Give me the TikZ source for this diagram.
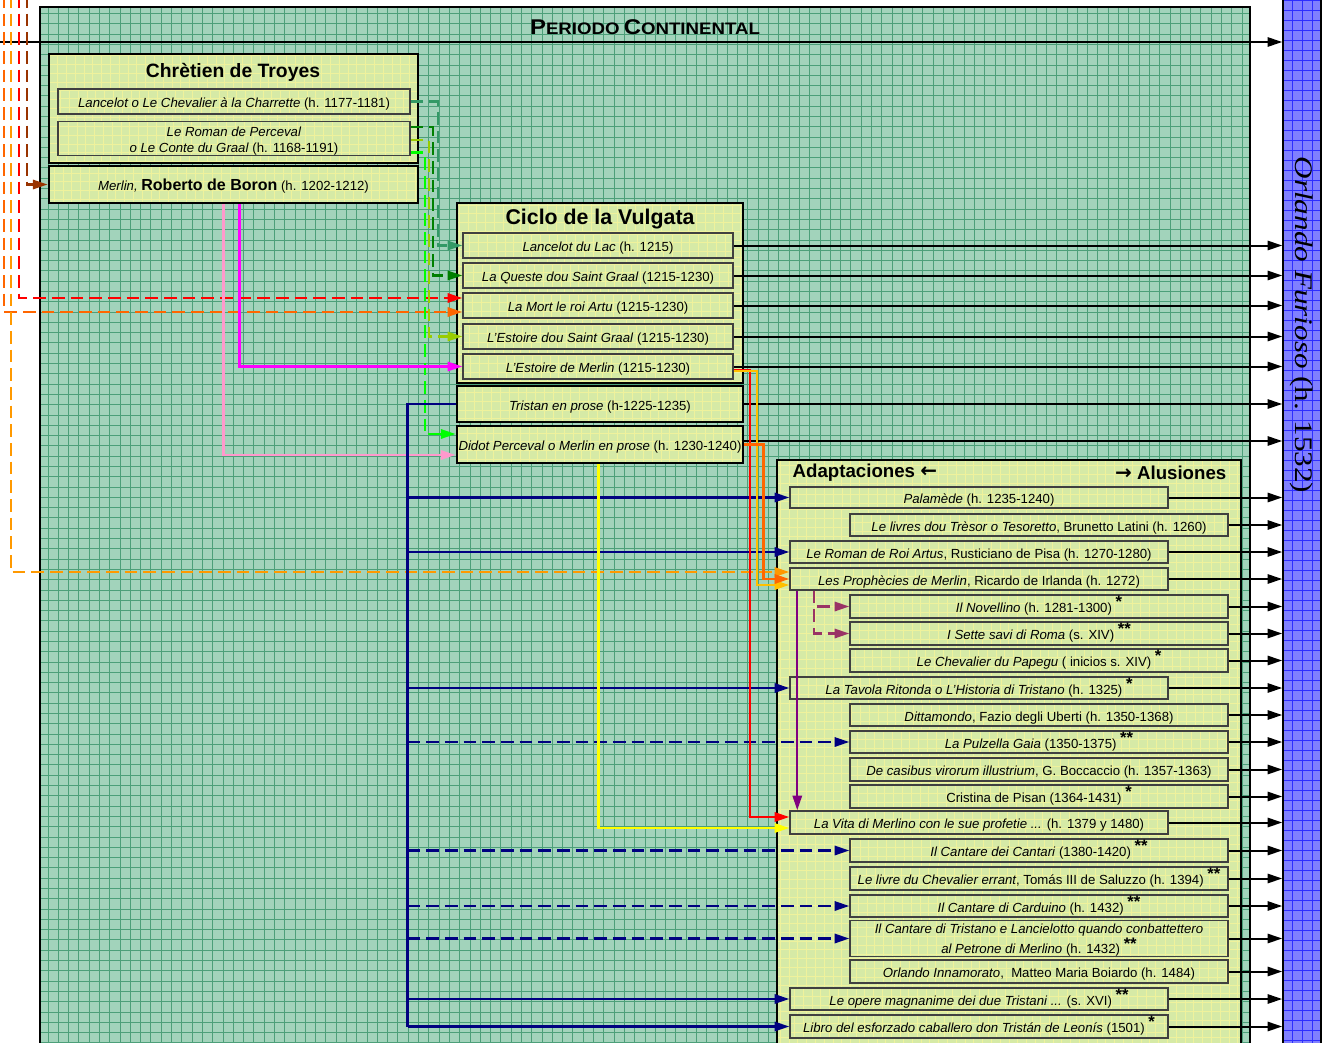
\documentclass[tikz,border=0pt]{standalone}
\usepackage{fontspec}
\setmainfont{Liberation Sans}
\newfontfamily\serifo{Liberation Serif}
\newfontfamily\dejavu{DejaVu Sans}
\usetikzlibrary{arrows.meta,fit,calc}
\definecolor{panelfill}{HTML}{A2D3BB}
\definecolor{panelgrid}{HTML}{4C9F79}
\definecolor{boxfill}{HTML}{D6EAA6}
\definecolor{boxgrid}{HTML}{EFF29C}
\definecolor{barfill}{HTML}{8080FF}
\definecolor{bargrid}{HTML}{2E2EFF}
\definecolor{cbrown}{HTML}{993300}
\definecolor{cred}{HTML}{FF0000}
\definecolor{corred}{HTML}{FF6600}
\definecolor{clor}{HTML}{FF9900}
\definecolor{cgold}{HTML}{FFC000}
\definecolor{cteal}{HTML}{339966}
\definecolor{cdgreen}{HTML}{008000}
\definecolor{cygreen}{HTML}{99CC00}
\definecolor{cbgreen}{HTML}{00FF00}
\definecolor{cmag}{HTML}{FF00FF}
\definecolor{cpink}{HTML}{FF99CC}
\definecolor{cnavy}{HTML}{000080}
\definecolor{cyel}{HTML}{FFFF00}
\definecolor{cpurple}{HTML}{800080}
\definecolor{cplum}{HTML}{993366}
\newcommand\stA{\raisebox{3.5pt}{\fontsize{12.5}{12.5}\selectfont\bfseries *}}
\newcommand\stB{\raisebox{3.5pt}{\fontsize{12.5}{12.5}\selectfont\bfseries **}}
\begin{document}
\begin{tikzpicture}[x=0.75pt,y=-0.75pt,
  panel/.style={draw=black,line width=1.5pt,fill=panelfill,inner sep=0pt,
    path picture={\draw[panelgrid,line width=0.7pt] (path picture bounding box.south west) grid[step=7.72pt] (path picture bounding box.north east);}},
  bar/.style={draw=black,line width=1.2pt,fill=barfill,inner sep=0pt,
    path picture={\draw[bargrid,line width=0.5pt] (path picture bounding box.south west) grid[step=7.5pt] (path picture bounding box.north east);}},
  gridded/.style={fill=boxfill,inner sep=0pt,
    path picture={\draw[boxgrid,line width=0.5pt] (path picture bounding box.south west) grid[step=6.6pt] (path picture bounding box.north east);}},
  obox/.style={gridded,draw=black,line width=2.2pt},
  ibox/.style={gridded,draw=black!75,line width=1.1pt,align=center,
    font=\fontsize{9.9}{12.5}\selectfont,text height=9.5pt,text depth=0.5pt},
  twoline/.style={text height={},text depth={}},
  bx/.style args={#1/#2/#3/#4}{at={({(#1+#3)/2},{(#2+#4)/2})},
    minimum width={(#3-#1)*0.75pt},minimum height={(#4-#2)*0.75pt}},
  arr/.style={-{Triangle[length=11pt,width=7pt]}},
  bk/.style={draw=black,line width=1.5pt,arr},
  con/.style={line width=1.6pt,arr},
  dsh/.style={dash pattern=on 9.5pt off 4.5pt},
]
\useasboundingbox (0,0) rectangle (1334,1042);
\begin{scope}
\clip (0,0) rectangle (1334,1042);
% panel and bar
\node[panel,bx=40/7/1250/1070] (pan) {};
\node[font=\bfseries] (ptitle) at (645,27)
  {\scalebox{1.12}[1]{{\fontsize{16}{18}\selectfont P}{\fontsize{12.5}{15}\selectfont ERIODO} {\fontsize{16}{18}\selectfont C}{\fontsize{12.5}{15}\selectfont ONTINENTAL}}};
\node[bar,bx=1283/-10/1321/1070] (orl) {};
\node[rotate=-90,font=\serifo\fontsize{19}{22}\selectfont] (orltx) at (1302,325)
  {\scalebox{1.23}[1]{\textit{Orlando Furioso} (h. 1532)}};

% Chretien
\node[obox,bx=49/54/418/163] (ct) {};
\node[font=\fontsize{14.5}{17}\selectfont\bfseries] (cttitle) at (233,72) {Chrètien de Troyes};
\node[ibox,bx=58/89/410/114] (lan) {\textit{Lancelot o Le Chevalier à la Charrette} (h. 1177-1181)};
\node[ibox,twoline,bx=58/122/410/155] (per) {\rule{0pt}{11pt}\textit{Le Roman de Perceval}\\\textit{o Le Conte du Graal} (h. 1168-1191)};
\node[ibox,draw=black,line width=2.2pt,bx=49/166/418/203] (mer) {\textit{Merlin,} {\fontsize{12}{14}\selectfont\bfseries Roberto de Boron} (h. 1202-1212)};

% Vulgata
\node[obox,bx=457/203/743/383] (vul) {};
\node[font=\fontsize{16}{19}\selectfont\bfseries] (vultitle) at (600,219) {Ciclo de la Vulgata};
\node[ibox,bx=463/233/733/258] (v1) {\textit{Lancelot du Lac} (h. 1215)};
\node[ibox,bx=463/263/733/288] (v2) {\textit{La Queste dou Saint Graal} (1215-1230)};
\node[ibox,bx=463/293/733/318] (v3) {\textit{La Mort le roi Artu} (1215-1230)};
\node[ibox,bx=463/324/733/349] (v4) {\textit{L'Estoire dou Saint Graal} (1215-1230)};
\node[ibox,bx=463/354/733/379] (v5) {\textit{L'Estoire de Merlin} (1215-1230)};
\node[ibox,draw=black,line width=2.2pt,bx=457/386/743/422] (tri) {\textit{Tristan en prose} (h-1225-1235)};
\node[ibox,draw=black,line width=2.2pt,bx=457/426/743/463] (did) {\textit{Didot Perceval o Merlin en prose} (h. 1230-1240)};

% Adaptaciones
\node[obox,bx=777/460/1241/1070] (ada) {};
\node[anchor=west,font=\fontsize{14}{17}\selectfont\bfseries] (adatitle) at (788,473) {Adaptaciones {\dejavu\bfseries\fontsize{15}{17}\selectfont ←}};
\node[anchor=east,font=\fontsize{14}{17}\selectfont\bfseries] (alutitle) at (1231,473) {{\dejavu\bfseries\fontsize{15}{17}\selectfont →} Alusiones};
\node[ibox,bx=790/487/1168/508] (pal) {\textit{Palamède} (h. 1235-1240)};
\node[ibox,bx=850/514/1228/536] (tre) {\textit{Le livres dou Trèsor o Tesoretto}, Brunetto Latini (h. 1260)};
\node[ibox,bx=790/541/1168/563] (rom) {\textit{Le Roman de Roi Artus}, Rusticiano de Pisa (h. 1270-1280)};
\node[ibox,bx=790/568/1168/590] (pro) {\textit{Les Prophècies de Merlin}, Ricardo de Irlanda (h. 1272)};
\node[ibox,bx=850/595/1228/618] (nov) {\textit{Il Novellino} (h. 1281-1300) \stA};
\node[ibox,bx=850/622/1228/645] (set) {\textit{I Sette savi di Roma} (s. XIV) \stB};
\node[ibox,bx=850/649/1228/672] (pap) {\textit{Le Chevalier du Papegu} ( inicios s. XIV) \stA};
\node[ibox,bx=790/677/1168/699] (tav) {\textit{La Tavola Ritonda o L'Historia di Tristano} (h. 1325) \stA};
\node[ibox,bx=850/704/1228/726] (dit) {\textit{Dittamondo}, Fazio degli Uberti (h. 1350-1368)};
\node[ibox,bx=850/731/1228/753] (pul) {\textit{La Pulzella Gaia} (1350-1375) \stB};
\node[ibox,bx=850/758/1228/781] (cas) {\textit{De casibus virorum illustrium}, G. Boccaccio (h. 1357-1363)};
\node[ibox,bx=850/785/1228/808] (cri) {Cristina de Pisan (1364-1431) \stA};
\node[ibox,bx=790/811/1168/834] (vit) {\textit{La Vita di Merlino con le sue profetie ...} (h. 1379 y 1480)};
\node[ibox,bx=850/839/1228/862] (can) {\textit{Il Cantare dei Cantari} (1380-1420) \stB};
\node[ibox,bx=850/867/1228/890] (err) {\textit{Le livre du Chevalier errant}, Tomás III de Saluzzo (h. 1394) \stB};
\node[ibox,bx=850/895/1228/917] (car) {\textit{Il Cantare di Carduino} (h. 1432) \stB};
\node[ibox,twoline,bx=850/922/1228/955] (ctr) {\rule{0pt}{10pt}\textit{Il Cantare di Tristano e Lancielotto quando conbattettero}\\\textit{al Petrone di Merlino} (h. 1432) \stB};
\node[ibox,bx=850/960/1228/983] (inn) {\textit{Orlando Innamorato},\ \ Matteo Maria Boiardo (h. 1484)};
\node[ibox,bx=790/988/1168/1010] (ope) {\textit{Le opere magnanime dei due Tristani ...} (s. XVI) \stB};
\node[ibox,bx=790/1015/1168/1038] (lib) {\textit{Libro del esforzado caballero don Tristán de Leonís} (1501) \stA};

% black arrows to Orlando
\coordinate (topstart) at (0,42);
\draw[bk] (topstart) -- (topstart -| orl.west);
\foreach \n in {v1,v2,v3,v4,v5,tri,pal,tre,rom,pro,nov,set,pap,tav,dit,pul,cas,cri,vit,can,err,car,ctr,inn,ope,lib}
  \draw[bk] (\n.east) -- (\n.east -| orl.west);
\coordinate (didout) at ($(did.east)+(0,-3.5)$);
\draw[bk] (didout) -- (didout -| orl.west);

% left dashed sources
\coordinate (sbr) at (27,-5);
\coordinate (sred) at (19,-5);
\coordinate (sor) at (4,-5);
\coordinate (slor) at (11,-5);
\draw[con,dsh,color=cbrown] (sbr) |- (mer.west);
\draw[con,dsh,color=cred] (sred) |- ($(v3.west)+(0,-7.5)$);
\draw[con,dsh,color=corred] (sor) |- ($(v3.west)+(0,6.5)$);
\draw[con,dsh,color=clor] (slor) |- ($(pro.west)+(0,-7)$);

% Chretien to Vulgata
\draw[con,dsh,color=cteal] (lan.east) -- ++(27,0) |- (v1.west);
\draw[con,dsh,color=cdgreen] ($(per.east)+(0,-11.5)$) -- ++(22,0) |- (v2.west);
\draw[con,dsh,color=cygreen] ($(per.east)+(0,1.5)$) -- ++(18,0) |- (v4.west);
\draw[con,dsh,color=cbgreen] ($(per.east)+(0,14)$) -- ++(14,0) |- ($(did.west)+(0,-10.5)$);

% Merlin to Vulgata
\draw[con,color=cmag] ($(mer.south west)+(192,0)$) |- (v5.west);
\draw[con,color=cpink] ($(mer.south west)+(176,0)$) |- ($(did.west)+(0,10.5)$);

% Tristan en prose (navy)
\coordinate (nv) at ($(tri.west)+(-48,0)$);
\draw[line width=1.6pt,color=cnavy] (tri.west) -- (nv) -- (nv |- lib.west);
\foreach \n in {pal,rom,tav,ope,lib}
  \draw[con,color=cnavy] (nv |- \n.west) -- (\n.west);
\foreach \n in {pul,can,car,ctr}
  \draw[con,dsh,color=cnavy] (nv |- \n.west) -- (\n.west);

% Vulgata / Didot to adaptaciones
\draw[con,color=cyel] ($(did.south west)+(143,0)$) |- ($(vit.west)+(0,5.5)$);
\draw[con,color=cred] ($(v5.east)+(0,3.5)$) -- ++(16,0) |- ($(vit.west)+(0,-5.5)$);
\draw[con,color=cgold] ($(v5.east)+(0,4.5)$) -- ++(23,0) |- ($(pro.west)+(0,6)$);
\draw[con,color=corred] (did.east) -- ++(19,0) |- (pro.west);

% Prophecies
\coordinate (pur) at ($(pro.south west)+(8,0)$);
\draw[con,color=cpurple] (pur) -- (pur |- vit.north);
\coordinate (plum) at ($(pro.south west)+(25,0)$);
\draw[con,dsh,color=cplum] (plum) |- (nov.west);
\draw[con,dsh,color=cplum] (plum) |- (set.west);
\end{scope}
\end{tikzpicture}
\end{document}
